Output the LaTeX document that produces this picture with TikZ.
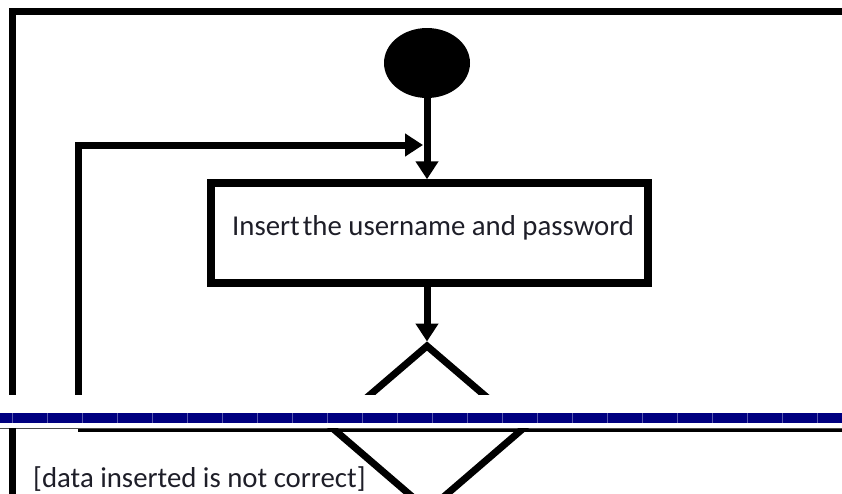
\documentclass[tikz,border=0pt]{standalone}
\usepackage{fontspec}
\setmainfont{Carlito}
\usetikzlibrary{arrows.meta,shapes.geometric,calc}
\definecolor{breakblue}{RGB}{0,0,128}
\definecolor{inktext}{RGB}{30,30,40}
\begin{document}
\begin{tikzpicture}[x=1pt,y=-1pt,
  wire/.style={line width=7pt, black, line join=miter},
  flow/.style={wire, -{Triangle[length=18pt,width=22pt]}},
  caption/.style={anchor=base west, inner sep=0pt, text=inktext,
    font=\fontsize{28.8}{34}\selectfont},
]
\useasboundingbox (0,0) rectangle (842,493);

% ---- upper page ----
\begin{scope}
  \clip (0,0) rectangle (842,394);
  % outer frame
  \draw[wire] (12,400) -- (12,11.5) -- (850,11.5);
  % initial node and action
  \node[ellipse, fill=black, inner sep=0pt, minimum width=86pt,
        minimum height=70pt] (start) at (427,63) {};
  \node[draw, line width=7.5pt, inner sep=0pt, minimum width=437pt,
        minimum height=100pt] (act) at (429.5,233) {};
  % decision (upper half)
  \coordinate (dvertex) at (427,346);
  \coordinate (dtop) at (427,341.5);
  \draw[wire] ($(dvertex)+(-70,60)$) -- (dvertex) -- ($(dvertex)+(70,60)$);
  % connectors
  \draw[flow] (start.south) -- (start.south |- act.north);
  \draw[flow] (act.south -| start) -- (dtop);
  \coordinate (loopfoot) at (78,400);
  \coordinate (entry) at (423,145);
  \draw[flow] (loopfoot) |- (entry);
\end{scope}

% ---- page break marker ----
\fill[breakblue] (0,413) rectangle (842,423);
\foreach \k in {0,...,23}
  \draw[white!35!breakblue, line width=0.5pt] (12+35*\k,413) -- (12+35*\k,423);
\draw[black!70, line width=1.3pt] (0,428.5) -- (842,428.5);
\draw[black, line width=3pt] (78,430.5) -- (842,430.5);

% ---- lower page ----
\begin{scope}
  \clip (0,428) rectangle (842,493);
  \draw[wire] (12,420) -- (12,500);
  \draw[wire] (323,420) -- (416,500);
  \draw[wire] (533,420) -- (440,500);
\end{scope}

% texts
\node[caption] (actlabel) at (232,235) {Insert\hspace{0.1em}the username and password};
\node[caption] (guard) at (33,487) {[data inserted is not correct]};
\end{tikzpicture}
\end{document}
